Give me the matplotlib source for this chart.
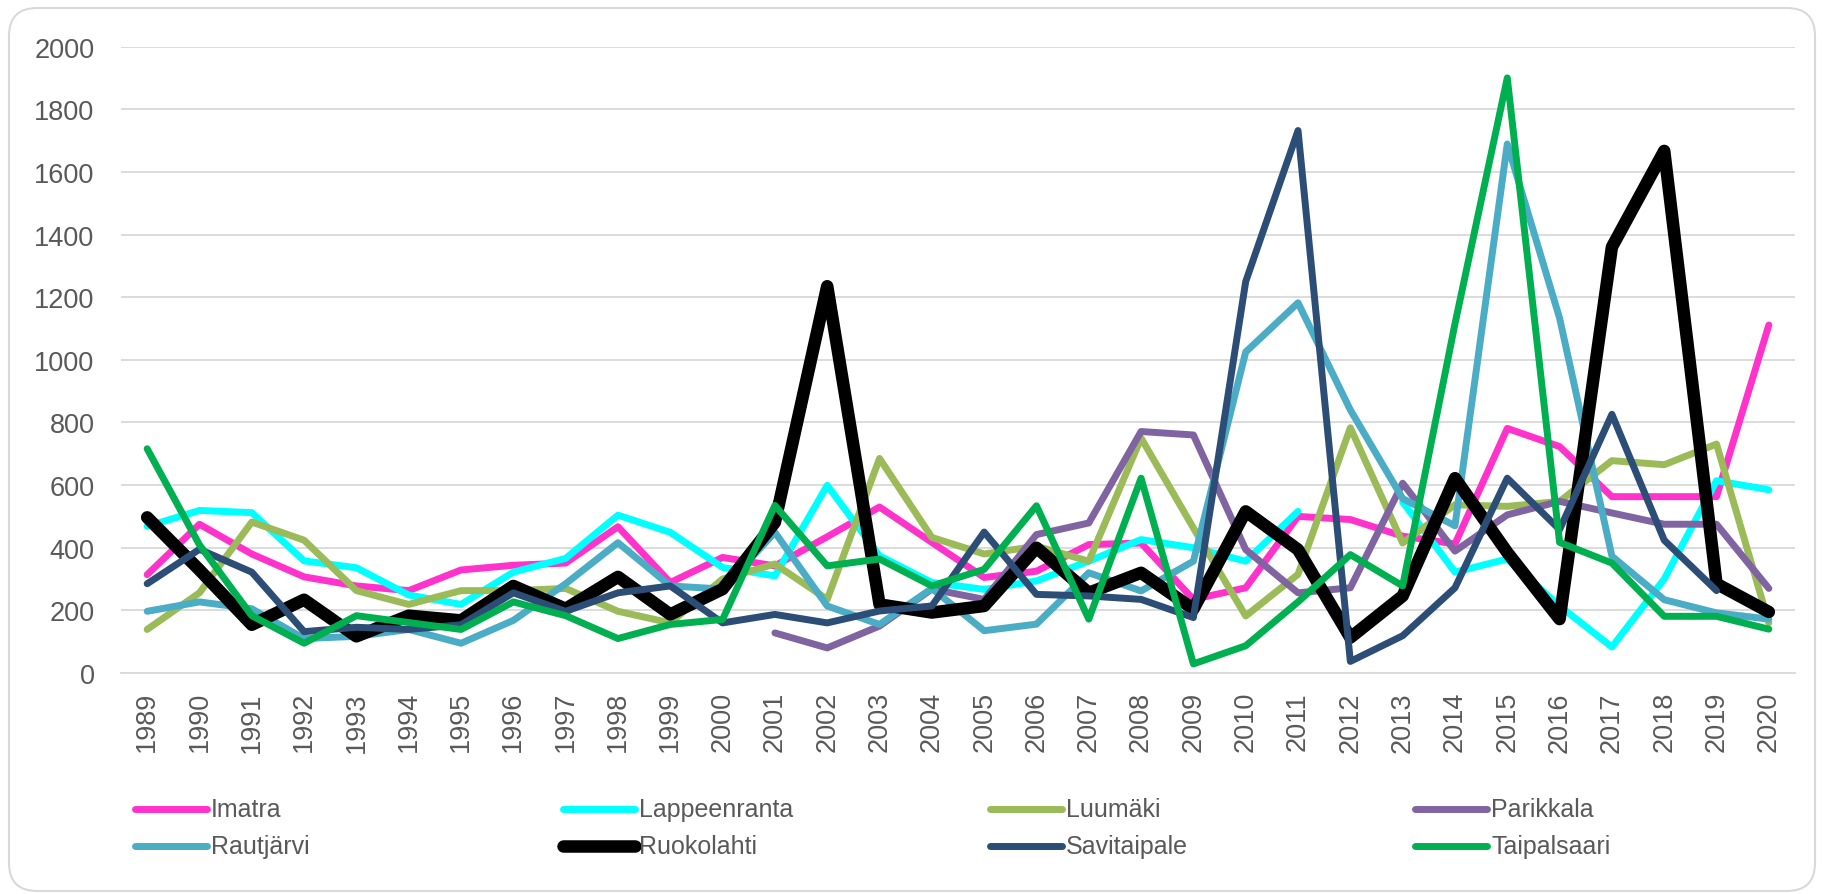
import numpy as np
import matplotlib
matplotlib.use("Agg")
import matplotlib.pyplot as plt
from matplotlib.lines import Line2D
from matplotlib.patches import FancyBboxPatch
from matplotlib.transforms import IdentityTransform

nan = np.nan
years = list(range(1989, 2021))

imatra = [314, 475, 380, 307, 278, 263, 329, 344, 351, 467, 289, 369, 342, 435, 530, 417,
          305, 325, 410, 415, 235, 272, 500, 490, 437, 412, 781, 723, 563, 563, 563, 1111]
lappeenranta = [468, 519, 512, 358, 336, 249, 219, 322, 366, 504, 449, 337, 310, 599, 374, 289,
                267, 294, 357, 426, 400, 357, 516, nan, 546, 322, 364, 214, 83, 300, 614, 585]
luumaki = [139, 256, 482, 424, 263, 219, 263, 263, 270, 197, 160, 300, 348, 235, 685, 433,
           380, 405, 357, 750, 463, 182, 315, 783, 415, 537, 532, 548, 678, 665, 731, 160]
parikkala = [nan] * 12 + [128, 80, 150, 268, 235, 442, 479, 771, 760, 394, 256, 272, 606, 389,
                          505, 548, 511, 475, 475, 270]
rautjarvi = [197, 227, 205, 110, 117, 139, 95, 168, 285, 416, 278, 268, 449, 214, 155, 270,
             135, 156, 320, 262, 357, 1025, 1182, 840, 557, 470, 1689, 1133, 373, 234, 192, 172]
ruokolahti = [497, 329, 154, 234, 117, 183, 168, 278, 205, 307, 187, 268, 481, 1235, 219, 193,
              214, 400, 256, 320, 204, 516, 394, 113, 246, 622, 385, 172, 1360, 1667, 285, 195]
savitaipale = [285, 395, 322, 132, 146, 139, 154, 256, 197, 256, 278, 160, 187, 160, 198, 214,
               450, 251, 246, 235, 177, 1250, 1732, 37, 119, 272, 622, 458, 826, 424, 263, nan]
taipalsaari = [716, 409, 183, 95, 183, 161, 139, 227, 183, 110, 155, 171, 535, 342, 364, 278,
               331, 534, 172, 622, 29, 87, 227, 378, 278, 1115, 1900, 417, 351, 181, 181, 140]

names = ["Imatra", "Lappeenranta", "Luumäki", "Parikkala",
         "Rautjärvi", "Ruokolahti", "Savitaipale", "Taipalsaari"]
series = [imatra, lappeenranta, luumaki, parikkala, rautjarvi, ruokolahti, savitaipale, taipalsaari]
colors = ["#FF33CC", "#00FFFF", "#9BBB59", "#8064A2", "#4BACC6", "#000000", "#2C4D75", "#00B050"]
widths = [5.0, 5.0, 5.0, 5.0, 5.0, 9.0, 5.0, 5.0]

plt.rcParams['font.family'] = ['Liberation Sans', 'DejaVu Sans']
W, H = 1822, 895
fig = plt.figure(figsize=(W / 100, H / 100), dpi=100)

# rounded chart border
border = FancyBboxPatch((9, 3), 1806, 883, boxstyle="round,pad=0,rounding_size=28",
                        transform=IdentityTransform(), facecolor="none",
                        edgecolor="#D9D9D9", linewidth=1.5, zorder=-5)
fig.patches.append(border)

ax = fig.add_axes([121 / W, 1 - 674 / H, (1795 - 121) / W, (674 - 47.6) / H])
ax.set_facecolor("none")

for vals, c, lw in zip(series, colors, widths):
    ax.plot(years, vals, color=c, linewidth=lw, solid_joinstyle="round",
            solid_capstyle="round", zorder=3)

ax.set_xlim(1988.5, 2020.5)
ax.set_ylim(0, 2000)
ax.set_yticks(range(0, 2001, 200))
ax.set_xticks(years)
ax.set_xticklabels([str(y) for y in years], rotation=90)
ax.grid(axis="y", color="#D9D9D9", linewidth=1.3, zorder=0)
ax.set_axisbelow(True)
for s in ["top", "right", "left"]:
    ax.spines[s].set_visible(False)
ax.spines["bottom"].set_color("#D9D9D9")
ax.spines["bottom"].set_linewidth(1.3)
ax.tick_params(axis="y", length=0, pad=19, labelsize=19.5, labelcolor="#595959")
ax.tick_params(axis="x", length=0, pad=13, labelsize=19.5, labelcolor="#595959")

# legend (two rows, four columns)
col_x = [135, 563, 990, 1415]
row_y = [810, 847]
for i, (n, c, lw) in enumerate(zip(names, colors, widths)):
    r, k = divmod(i, 4)
    x0 = col_x[k]
    y = 1 - row_y[r] / H
    fig.add_artist(Line2D([x0 / W, (x0 + 72) / W], [y, y], color=c, linewidth=lw,
                          solid_capstyle="round", transform=fig.transFigure))
    fig.text((x0 + 76) / W, y, n, fontsize=18, color="#595959", va="center", ha="left")

fig.savefig("out.png", dpi=100)
